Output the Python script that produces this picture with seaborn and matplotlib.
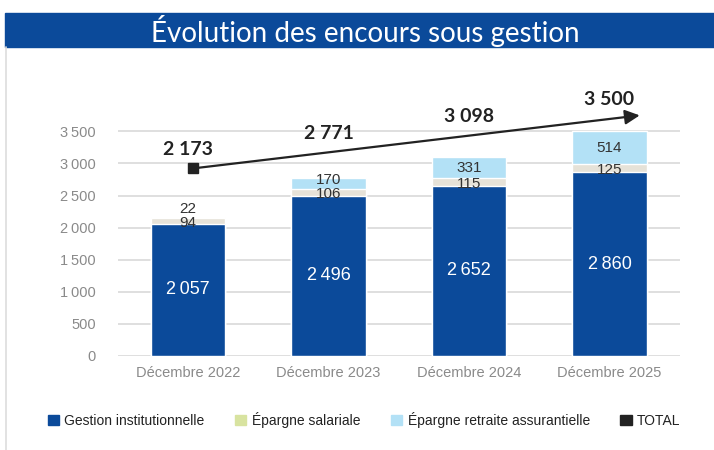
import numpy as np
import pandas as pd
import matplotlib.pyplot as plt
from matplotlib.patches import Rectangle, Patch
import seaborn as sns

# data
categories = ["Décembre 2022", "Décembre 2023", "Décembre 2024", "Décembre 2025"]
gestion_inst = [2057, 2496, 2652, 2860]
epargne_sal = [94, 106, 115, 125]
epargne_ret = [22, 170, 331, 514]
total_labels = ["2\u202f173", "2\u202f771", "3\u202f098", "3\u202f500"]
totals = [2173, 2771, 3098, 3500]
yticks = [0, 500, 1000, 1500, 2000, 2500, 3000, 3500]

BLUE = "#0b4a9a"
BEIGE = "#e6e2d8"
LIGHTBLUE = "#b3e1f6"
GREEN = "#d8e3a0"
DARK = "#222222"

sns.set_style("white")
plt.rcParams["font.family"] = ["Liberation Sans", "DejaVu Sans"]

df = pd.DataFrame({
    "cat": categories,
    "inst": gestion_inst,
    "sal": epargne_sal,
    "ret": epargne_ret,
})
df["cum2"] = df["inst"] + df["sal"]
df["cum3"] = df["cum2"] + df["ret"]

fig = plt.figure(figsize=(7.14, 4.5), dpi=100)
ax = fig.add_axes([0.165, 0.209, 0.787, 0.613])

# stacked bars by overlapping cumulative sums
bw = 0.53
sns.barplot(data=df, x="cat", y="cum3", color=LIGHTBLUE, saturation=1, width=bw, ax=ax)
sns.barplot(data=df, x="cat", y="cum2", color=BEIGE, saturation=1, width=bw, ax=ax)
sns.barplot(data=df, x="cat", y="inst", color=BLUE, saturation=1, width=bw, ax=ax)

for i in range(len(df)):
    ax.text(i, df["inst"][i] / 2, f"{gestion_inst[i]:,}".replace(",", "\u202f"),
            ha="center", va="center", color="white", fontsize=13)
    y_sal = df["inst"][i] + df["sal"][i] / 2 - 25
    ax.text(i, y_sal, str(epargne_sal[i]),
            ha="center", va="center", color="#333333", fontsize=11)
    y_ret = max(df["cum2"][i] + df["ret"][i] / 2, y_sal + 215)
    ax.text(i, y_ret, str(epargne_ret[i]),
            ha="center", va="center", color="#333333", fontsize=11)

# total arrow (decorative trend line above the bars)
x0, x1 = 0.034, 3.215
y0, y1 = totals[0] + 750, totals[-1] + 250
ax.annotate("", xy=(x1, y1), xytext=(x0, y0),
            arrowprops=dict(arrowstyle="-|>", color=DARK, lw=1.6,
                            mutation_scale=22, shrinkA=0, shrinkB=0))
ax.plot([x0], [y0], marker="s", color=DARK, markersize=6.5)
slope = (y1 - y0) / (x1 - x0)
for i, lab in enumerate(total_labels):
    ax.text(i, y0 + slope * (i - x0) + 300, lab, ha="center", va="center",
            fontsize=14, fontweight="bold", color=DARK,
            family=["Lato", "DejaVu Sans"])

ax.set_ylim(0, 4300)
ax.set_xlim(-0.5, 3.5)
ax.set_yticks(yticks)
ax.set_yticklabels([f"{v:,}".replace(",", "\u202f") for v in yticks])
ax.yaxis.grid(True, color="#d9d9d9", lw=1.2)
ax.set_axisbelow(True)
ax.tick_params(axis="both", colors="#8a8a8a", labelsize=10.5, length=0)
ax.tick_params(axis="y", pad=16)
ax.tick_params(axis="x", pad=7)
ax.set_xlabel("")
ax.set_ylabel("")
sns.despine(ax=ax, left=True, bottom=True)

# title banner
fig.patches.append(Rectangle((5 / 714, 1 - 47 / 450), 1, 34 / 450, transform=fig.transFigure,
                             color=BLUE, zorder=0))
fig.text(0.512, 1 - 31 / 450, "Évolution des encours sous gestion", color="white",
         fontsize=20, ha="center", va="center", family=["Lato", "DejaVu Sans"])
fig.lines.append(plt.Line2D([6 / 714, 6 / 714], [0, 1 - 47 / 450], transform=fig.transFigure,
                            color="#dddddd", lw=1.2))

handles = [Patch(color=BLUE), Patch(color=GREEN), Patch(color=LIGHTBLUE), Patch(color=DARK)]
labels = ["Gestion institutionnelle", "Épargne salariale", "Épargne retraite assurantielle", "TOTAL"]
fig.legend(handles, labels, loc="center", bbox_to_anchor=(0.51, 1 - 420 / 450), ncol=4,
           frameon=False, fontsize=10, handlelength=0.8, handleheight=0.8, handletextpad=0.4,
           columnspacing=2.2, labelcolor="#222222")

fig.savefig("out.png", dpi=100)
